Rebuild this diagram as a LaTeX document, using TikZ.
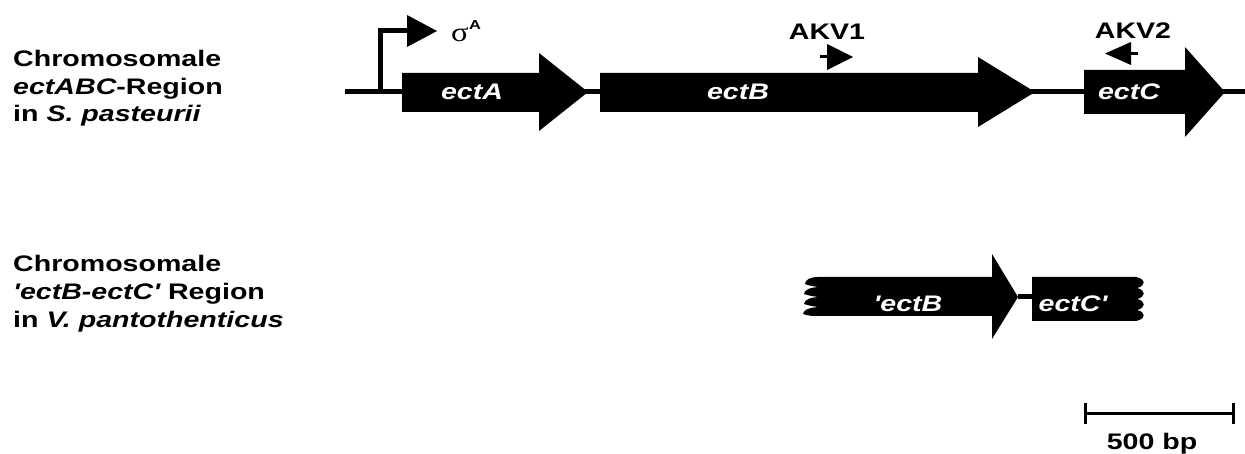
\documentclass[tikz,border=0pt]{standalone}
\usepackage{fontspec}
\newfontfamily\lab{Liberation Sans}[FakeStretch=1.27]
\newfontfamily\grk{Liberation Serif}[FakeStretch=1.2]
\begin{document}
\begin{tikzpicture}[x=1pt,y=-1pt,
  lbl/.style={inner sep=0pt,anchor=base west,font=\lab\fontsize{22.5}{27}\selectfont\bfseries},
  ctr/.style={lbl,anchor=base},
  gl/.style={inner sep=0pt,anchor=base,text=white,font=\lab\fontsize{22.5}{27}\selectfont\bfseries\itshape},
  dna/.style={line width=5pt},
  bar/.style={line width=3pt},
  gene/.style={fill=black,draw=none}]
\useasboundingbox (0,0) rectangle (1245,454);

% ---- species labels
\node[lbl] (a1) at (13,67) {Chromosomale};
\node[lbl] (a2) at (13,94.5) {\itshape ectABC\upshape-Region};
\node[lbl] (a3) at (13,122) {in \itshape S. pasteurii};
\node[lbl] (b1) at (13,272) {Chromosomale};
\node[lbl] (b2) at (13,299.5) {\itshape 'ectB-ectC'\upshape\ Region};
\node[lbl] (b3) at (13,327) {in \itshape V. pantothenticus};

% ---- ectABC locus
\coordinate (l0) at (345,92);
\coordinate (l1) at (1245,92);
\draw[dna] (l0) -- (l1);

% promoter
\coordinate (pr0) at (380,92);
\coordinate (pr1) at (410,31);
\draw[dna] (pr0) |- (pr1);
\fill (407,15) -- (437,31) -- (407,47) -- cycle;
\node[inner sep=0pt,anchor=base west,font=\grk\fontsize{27}{27}\selectfont] (sig) at (451,42) {σ};
\node[inner sep=0pt,anchor=base west,font=\lab\bfseries\fontsize{13}{13}\selectfont] (sigA) at (469,30) {A};

% genes
\fill[gene] (402,73) -- (539,73) -- (539,53) -- (588,92) -- (539,131) -- (539,112) -- (402,112) -- cycle;
\fill[gene] (600,73) -- (978,73) -- (978,57) -- (1035,92) -- (978,127) -- (978,112) -- (600,112) -- cycle;
\fill[gene] (1084,70) -- (1185,70) -- (1185,47) -- (1225,92) -- (1185,137) -- (1185,114) -- (1084,114) -- cycle;
\node[gl] (gA) at (472,100) {ectA};
\node[gl] (gB) at (738,100) {ectB};
\node[gl] (gC) at (1129,100) {ectC};

% primers
\node[ctr] (akv1) at (827,40) {AKV1};
\fill (827,44) -- (853,57) -- (827,70) -- cycle;
\draw[bar] (820,57) -- (828,57);
\node[ctr] (akv2) at (1133,39) {AKV2};
\fill (1131,42) -- (1105,53.5) -- (1131,65) -- cycle;
\draw[bar] (1130,53.5) -- (1138,53.5);

% ---- 'ectB-ectC' fragment
\fill[gene] (992,277) -- (818,277)
  .. controls (810,277) and (805,280) .. (805,284)
  .. controls (810,286) and (816,287) .. (821,287)
  .. controls (810,287) and (804,290) .. (804,294)
  .. controls (810,296) and (816,297) .. (821,297)
  .. controls (810,297) and (804,300) .. (804,304)
  .. controls (810,306) and (816,307) .. (821,307)
  .. controls (810,307) and (803,310) .. (803,314)
  .. controls (808,316) and (814,316) .. (818,316)
  -- (992,316) -- (992,339) -- (1018,297) -- (992,254) -- cycle;
\coordinate (m0) at (1018,297);
\coordinate (m1) at (1033,297);
\draw[dna] (m0) -- (m1);
\fill[gene] (1032,277) -- (1136,277)
  .. controls (1146,279) and (1146,286) .. (1137,288)
  .. controls (1146,290) and (1146,297) .. (1137,299)
  .. controls (1146,301) and (1146,308) .. (1137,310)
  .. controls (1146,312) and (1146,319) .. (1136,321)
  -- (1032,321) -- cycle;
\node[gl] (fB) at (908,312) {'ectB};
\node[gl] (fC) at (1073,312) {ectC'};

% ---- scale bar
\coordinate (s0) at (1085,413);
\coordinate (s1) at (1233,413);
\draw[bar] (s0) -- (s1);
\draw[bar] (1085,403) -- (1085,424);
\draw[bar] (1233,403) -- (1233,424);
\node[ctr] (scl) at (1152,449) {500 bp};
\end{tikzpicture}
\end{document}
